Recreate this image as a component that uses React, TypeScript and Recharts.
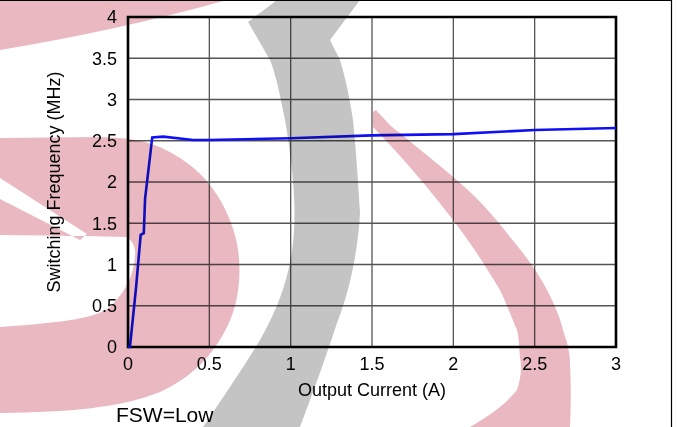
import { LineChart, Line, XAxis, YAxis, CartesianGrid, ReferenceArea } from 'recharts';

const currentA = [0, 0.012, 0.049, 0.078, 0.097, 0.105, 0.149, 0.217, 0.4, 0.5, 1.0, 1.5, 2.0, 2.5, 3.0];
const freqMHz = [0, 0, 0.71, 1.36, 1.38, 1.8, 2.54, 2.55, 2.51, 2.51, 2.53, 2.565, 2.58, 2.63, 2.655];
const xTicks = [0, 0.5, 1, 1.5, 2, 2.5, 3];
const yTicks = [0, 0.5, 1, 1.5, 2, 2.5, 3, 3.5, 4];

const data = currentA.map((x, i) => ({ x, f: freqMHz[i] }));

const FONT = '"Liberation Sans", Arial, sans-serif';
const PINK = '#e9b8c1';
const GRAY = '#c4c4c4';

// faint watermark over the figure (multiplied so lines stay dark)
function Watermark() {
  return (
    <svg
      width={677}
      height={427}
      style={{ position: 'absolute', left: 0, top: 0, mixBlendMode: 'multiply', pointerEvents: 'none' }}
    >
      <path d="M0,0 L227,0 Q120,30 0,50 Z" fill={PINK} />
      <path
        fillRule="evenodd"
        fill={PINK}
        d={
          'M0,138 L100,137 C130,138 150,140 175,155 C205,172 225,200 235,235 C243,265 240,300 228,325 ' +
          'C212,358 190,378 160,392 C120,408 70,412 0,413 Z ' +
          'M0,178 L87,234 L80,240 L0,199 Z ' +
          'M0,235 L85,236 L127,237 C134,242 136,250 135,256 C134,272 128,290 110,307 C95,318 70,322 0,327 Z'
        }
      />
      <path
        fill={GRAY}
        d={
          'M277,0 L360,0 L330,40 L340,60 C346,80 350,100 353,120 C356,150 358,180 360,213 ' +
          'C358,250 350,290 337,323 C325,360 312,395 300,427 L203,427 C225,395 245,365 260,340 ' +
          'C280,305 292,270 294,230 C296,200 292,160 285,120 C280,95 276,75 270,60 L248,22 Z'
        }
      />
      <path
        fill={PINK}
        d={
          'M373,112 L376,110 C385,120 392,128 400,133 C420,150 440,165 460,183 C480,200 497,220 510,237 ' +
          'C525,255 538,272 547,290 C555,305 560,318 563,330 C567,342 570,352 570,363 C571,385 571,405 570,427 ' +
          'L470,427 C490,415 505,405 517,390 C521,378 522,368 520,357 C519,345 519,338 517,330 ' +
          'C512,318 507,305 500,290 C485,265 470,242 453,220 C430,190 405,160 373,127 Z'
        }
      />
    </svg>
  );
}

export default function App() {
  return (
    <div style={{ position: 'absolute', left: 0, top: 0, width: 677, height: 427, background: '#fff', overflow: 'hidden' }}>
      <svg width={677} height={427} style={{ position: 'absolute', left: 0, top: 0 }}>
        <line x1={0} y1={0.5} x2={672} y2={0.5} stroke="#000" strokeWidth={1.2} />
        <line x1={671.5} y1={0} x2={671.5} y2={427} stroke="#000" strokeWidth={1.2} />
      </svg>
      <div style={{ position: 'absolute', left: 0, top: 0 }}>
        <LineChart width={677} height={427} data={data} margin={{ top: 17, right: 61, left: 0, bottom: 50 }}>
          <CartesianGrid stroke="#555" strokeWidth={1.3} horizontalValues={yTicks} verticalValues={xTicks} />
          <XAxis
            dataKey="x"
            type="number"
            domain={[0, 3]}
            ticks={xTicks}
            height={30}
            axisLine={false}
            tickLine={false}
            tickMargin={4}
            interval={0}
            tick={{ fill: '#000', fontSize: 18, fontFamily: FONT }}
            label={{
              value: 'Output Current (A)',
              position: 'insideBottom',
              offset: -19,
              fill: '#000',
              fontSize: 18,
              fontFamily: FONT,
            }}
          />
          <YAxis
            type="number"
            domain={[0, 4]}
            ticks={yTicks}
            width={128}
            axisLine={false}
            tickLine={false}
            tickMargin={5}
            interval={0}
            tick={{ fill: '#000', fontSize: 18, fontFamily: FONT }}
            label={{
              value: 'Switching Frequency (MHz)',
              angle: -90,
              position: 'insideLeft',
              offset: 54,
              style: { textAnchor: 'middle' },
              fill: '#000',
              fontSize: 18,
              fontFamily: FONT,
            }}
          />
          <ReferenceArea x1={0} x2={3} y1={0} y2={4} fill="none" stroke="#000" strokeWidth={2.6} ifOverflow="visible" />
          <Line
            type="linear"
            dataKey="f"
            stroke="#1010f5"
            strokeWidth={2.6}
            dot={false}
            isAnimationActive={false}
          />
        </LineChart>
      </div>
      <div style={{ position: 'absolute', left: 116, top: 403, fontFamily: FONT, fontSize: 21, color: '#000', lineHeight: '24px' }}>
        FSW=Low
      </div>
      <Watermark />
    </div>
  );
}
